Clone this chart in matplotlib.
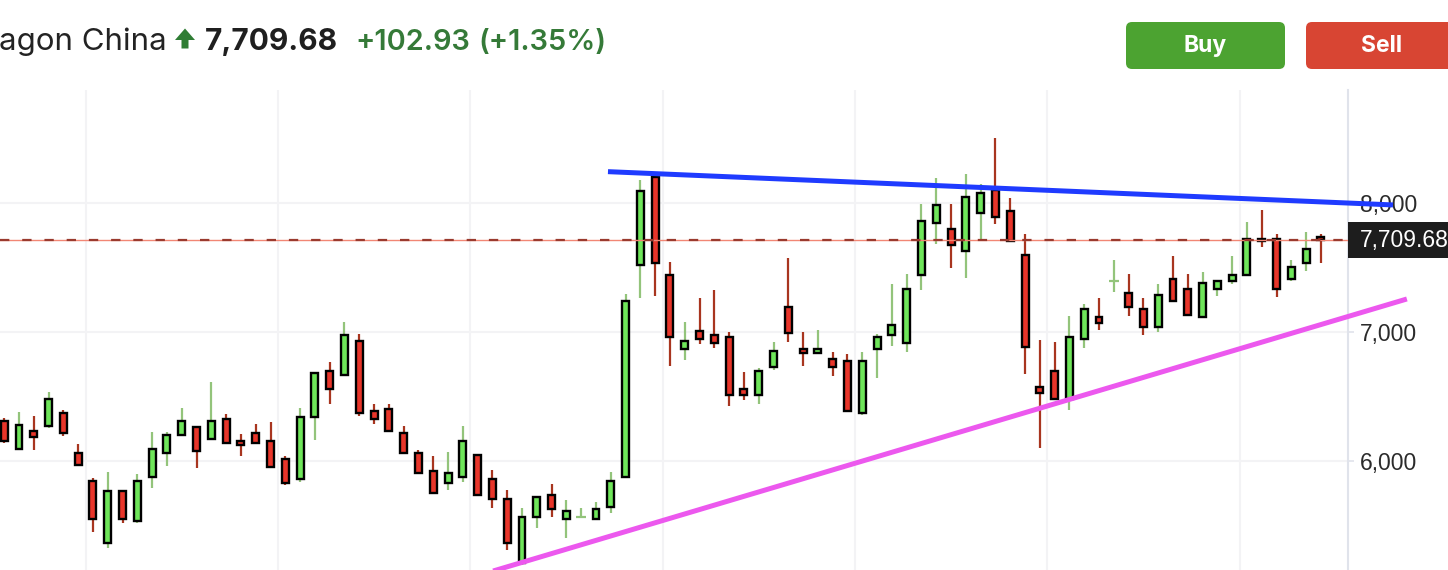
import matplotlib
matplotlib.use("Agg")
import numpy as np
import matplotlib.pyplot as plt
from matplotlib.patches import Rectangle, FancyBboxPatch, Polygon
from matplotlib.transforms import IdentityTransform, blended_transform_factory

# daily candles (oldest -> newest)
opens = [6312, 6091, 6235, 6271, 6374, 6064, 5847, 5362, 5770, 5533,
         5874, 6060, 6199, 6266, 6168, 6328, 6157, 6219, 6157, 6018,
         5858, 6339, 6700, 6664, 6933, 6390, 6405, 6219, 6064, 5925,
         5827, 5878, 6049, 5863, 5708, 5209, 5564, 5739, 5548, 5568,
         5548, 5641, 5874, 7517, 8204, 7444, 6866, 7010, 6979, 6964,
         6560, 6509, 6726, 7196, 6871, 6835, 6793, 6778, 6370, 6866,
         6975, 6912, 7440, 7843, 7801, 7626, 7920, 8101, 7940, 7599,
         6576, 6700, 6483, 6943, 7119, 7398, 7305, 7181, 7041, 7413,
         7336, 7119, 7336, 7398, 7444, 7723, 7723, 7413, 7537, 7739]
highs = [6330, 6380, 6349, 6535, 6395, 6132, 5868, 5915, 5770, 5899,
         6225, 6225, 6411, 6266, 6612, 6364, 6209, 6287, 6302, 6039,
         6411, 6685, 6768, 7078, 6985, 6442, 6442, 6271, 6085, 6039,
         6070, 6271, 6049, 5930, 5775, 5636, 5723, 5822, 5698, 5636,
         5682, 5915, 7295, 8178, 8204, 7543, 7078, 7264, 7326, 7000,
         6690, 6721, 6922, 7574, 7000, 7016, 6845, 6830, 6845, 6985,
         7372, 7450, 7992, 8194, 7992, 8225, 8147, 8504, 8039, 7760,
         6938, 6922, 7124, 7217, 7264, 7558, 7450, 7264, 7372, 7589,
         7450, 7465, 7398, 7589, 7853, 7946, 7760, 7558, 7775, 7760]
lows = [6140, 6091, 6085, 6256, 6194, 5967, 5450, 5326, 5519, 5519,
        5791, 5961, 6199, 5946, 6168, 6137, 6039, 6137, 5951, 5814,
        5837, 6163, 6442, 6664, 6349, 6287, 6230, 6060, 5905, 5750,
        5775, 5837, 5734, 5636, 5310, 5190, 5481, 5566, 5403, 5568,
        5548, 5597, 5874, 7264, 7279, 6737, 6783, 6907, 6876, 6426,
        6473, 6442, 6705, 6922, 6737, 6835, 6659, 6385, 6357, 6643,
        6892, 6845, 7326, 7682, 7496, 7419, 7713, 7837, 7708, 6674,
        6101, 6478, 6395, 6876, 7016, 7310, 7124, 6977, 7000, 7243,
        7134, 7119, 7279, 7372, 7444, 7659, 7271, 7395, 7473, 7535]
closes = [6153, 6281, 6184, 6483, 6215, 5967, 5548, 5770, 5548, 5847,
          6095, 6204, 6312, 6075, 6312, 6137, 6122, 6137, 5951, 5827,
          6343, 6685, 6556, 6979, 6370, 6323, 6230, 6060, 5905, 5750,
          5909, 6157, 5734, 5703, 5362, 5568, 5723, 5626, 5615, 5568,
          5630, 5847, 7243, 8095, 7533, 6959, 6933, 6943, 6912, 6509,
          6509, 6700, 6855, 6990, 6835, 6871, 6726, 6385, 6778, 6964,
          7057, 7336, 7863, 7987, 7672, 8049, 8080, 7889, 7708, 6881,
          6529, 6478, 6964, 7181, 7068, 7398, 7192, 7041, 7289, 7243,
          7134, 7382, 7398, 7444, 7723, 7708, 7336, 7506, 7646, 7709.68]

symbol_text = "agon China"
last_price_text = "7,709.68"
change_text = "+102.93"
change_pct_text = "(+1.35%)"
price_ticks = [6000, 7000, 8000]
tick_labels = ["6,000", "7,000", "8,000"]

# hand drawn trend lines (candle index, price)
resistance_x = [40.81, 93.87]
resistance_y = [8243, 7985]
support_x = [33.04, 94.81]
support_y = [5147, 7256]

GREEN = '#6fe65a'
RED = '#e8352a'
GREEN_WICK = '#93c47b'
RED_WICK = '#a8351f'

W, H = 1448, 570
fig = plt.figure(figsize=(W / 100, H / 100), dpi=100)
fig.patch.set_facecolor('white')
ax = fig.add_axes([0, 0, 1348 / W, 480 / H])
ax.set_xlim(-0.284, 90.83)
ax.set_ylim(5155, 8876)

# grid
for gx in np.arange(5.5, 91, 13):
    ax.axvline(gx, color='#f3f3f5', lw=1.5, zorder=0)
for gy in price_ticks:
    ax.axhline(gy, color='#f3f3f5', lw=1.5, zorder=0)

o = np.array(opens, dtype=float)
h = np.array(highs, dtype=float)
l = np.array(lows, dtype=float)
c = np.array(closes, dtype=float)
x = np.arange(len(o))
up = c > o
down = c < o
flat = c == o

wick_colors = np.where(c >= o, GREEN_WICK, RED_WICK)
ax.vlines(x, l, h, colors=wick_colors, lw=1.6, zorder=2)
ax.bar(x[up], (c - o)[up], bottom=o[up], width=0.47, color=GREEN,
       edgecolor='black', linewidth=1.7, zorder=3)
ax.bar(x[down], (o - c)[down], bottom=c[down], width=0.47, color=RED,
       edgecolor='black', linewidth=1.7, zorder=3)
ax.hlines(o[flat], x[flat] - 0.33, x[flat] + 0.33, colors=GREEN_WICK, lw=1.6, zorder=3)

# last price line
last_close = closes[-1]
ax.axhline(last_close, color='#f28775', lw=1.0, zorder=4)
ax.axhline(last_close, color='#9a3a2e', lw=1.6, ls=(0, (4.2, 5.8)), zorder=4.1)

# trend lines
ax.plot(resistance_x, resistance_y, color='#1f3bff', lw=3.6, solid_capstyle='butt',
        clip_on=False, zorder=8)
ax.plot(support_x, support_y, color='#ec58ee', lw=3.6, solid_capstyle='butt',
        clip_on=False, zorder=8)

# right price axis
for s in ['top', 'left', 'bottom']:
    ax.spines[s].set_visible(False)
ax.spines['right'].set_color('#e0e3eb')
ax.spines['right'].set_linewidth(1.5)
ax.set_xticks([])
ax.yaxis.tick_right()
ax.set_yticks(price_ticks, tick_labels)
ax.tick_params(axis='y', length=4.3, width=1.2, color='#e0e3eb', labelcolor='#2b2b2b',
               labelsize=16.5, pad=4.3)
for t in ax.get_yticklabels():
    t.set_fontfamily('Liberation Sans')

# price tag on the axis
unit_per_px = (8876 - 5155) / 480
trans = blended_transform_factory(ax.transAxes, ax.transData)
tag_h = 36 * unit_per_px
ax.add_patch(Rectangle((1.0, last_close - tag_h / 2), 110 / 1348, tag_h, transform=trans,
                       facecolor='#1d1d1d', edgecolor='none', clip_on=False, zorder=6))
ax.text(1.0 + 12 / 1348, last_close, last_price_text, transform=trans, color='white',
        fontsize=16.5, family='Liberation Sans', va='center', ha='left', zorder=7)

# header (pixel coords, origin bottom-left)
px = IdentityTransform()
base_y = H - 50
fig.text(-1, base_y, symbol_text, transform=px, fontsize=22.5, family='Inter',
         color='#232323', va='baseline', ha='left')
fig.patches.append(Polygon([(175, H - 40), (185, H - 28.5), (195, H - 40), (188.5, H - 40),
                            (188.5, H - 48.5), (181.5, H - 48.5), (181.5, H - 40)],
                           closed=True, transform=px, facecolor='#2f7d34', edgecolor='none'))
fig.text(205, base_y, last_price_text, transform=px, fontsize=21.5, family='Inter',
         fontweight='bold', color='#1f1f1f', va='baseline', ha='left')
fig.text(355, base_y, change_text, transform=px, fontsize=20.8, family='Inter',
         fontweight='semibold', color='#357a38', va='baseline', ha='left')
fig.text(478, base_y, change_pct_text, transform=px, fontsize=20.8, family='Inter',
         fontweight='semibold', color='#357a38', va='baseline', ha='left')

# buy / sell buttons
for bx, bw, col, label, tx in [(1126, 159, '#4ca331', 'Buy', 1205.5),
                               (1306, 170, '#d84533', 'Sell', 1382)]:
    fig.patches.append(FancyBboxPatch((bx, H - 69), bw, 47, transform=px,
                                      boxstyle='round,pad=0,rounding_size=6',
                                      facecolor=col, edgecolor='none'))
    fig.text(tx, H - 46, label, transform=px, fontsize=16.5, family='Inter',
             fontweight='bold', color='white', va='center', ha='center')

fig.savefig('out.png', dpi=100, facecolor='white')
